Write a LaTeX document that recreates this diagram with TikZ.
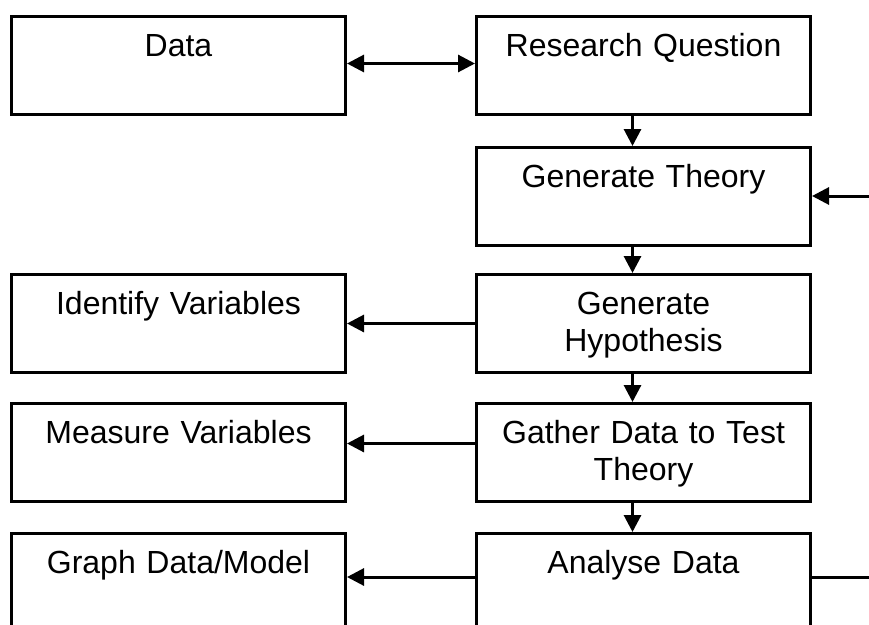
\documentclass[tikz,border=0pt]{standalone}
\usepackage{fontspec}
\setmainfont{Liberation Sans}
\usetikzlibrary{arrows.meta}
\begin{document}
\begin{tikzpicture}[x=1pt,y=-1pt,
  box/.style={draw=black,line width=3pt,rectangle,anchor=north west,minimum width=334pt,minimum height=98pt,inner xsep=4pt,inner ysep=3pt,text width=320pt,align=center,text height=37pt,text depth=55pt,font=\fontsize{32}{37}\selectfont},
  arr/.style={line width=3pt,-{Triangle[length=17pt,width=17pt]}},
  arrboth/.style={line width=3pt,{Triangle[length=17pt,width=17pt]}-{Triangle[length=17pt,width=17pt]}}]
\useasboundingbox (0,0) rectangle (869,624);
\node[box] (data) at (10,15) {Data};
\node[box] (rq) at (475,15) {Research Question};
\node[box] (gt) at (475,146) {Generate Theory};
\node[box] (gh) at (475,273) {Generate\\Hypothesis};
\node[box] (iv) at (10,273) {Identify Variables};
\node[box] (gd) at (475,402) {Gather Data to Test\\Theory};
\node[box] (mv) at (10,402) {Measure Variables};
\node[box] (ad) at (475,532) {Analyse Data};
\node[box] (gm) at (10,532) {Graph Data/Model};
\coordinate (back) at (869,196);
\coordinate (out) at (869,577);
\draw[arrboth] ([yshift=2pt]data.east) -- ([yshift=2pt]rq.west);
\draw[arr] ([xshift=-11pt]rq.south) -- ([xshift=-11pt]gt.north);
\draw[arr] ([xshift=-11pt]gt.south) -- ([xshift=-11pt]gh.north);
\draw[arr] ([xshift=-11pt]gh.south) -- ([xshift=-11pt]gd.north);
\draw[arr] ([xshift=-11pt]gd.south) -- ([xshift=-11pt]ad.north);
\draw[arr] (gh) -- (iv);
\draw[arr] ([yshift=9pt]gd.west) -- ([yshift=9pt]mv.east);
\draw[arr] (ad.west |- out) -- (gm.east |- out);
\draw[arr] (back) -- (gt.east |- back);
\draw[line width=3pt] (ad.east |- out) -- (out);
\end{tikzpicture}
\end{document}
